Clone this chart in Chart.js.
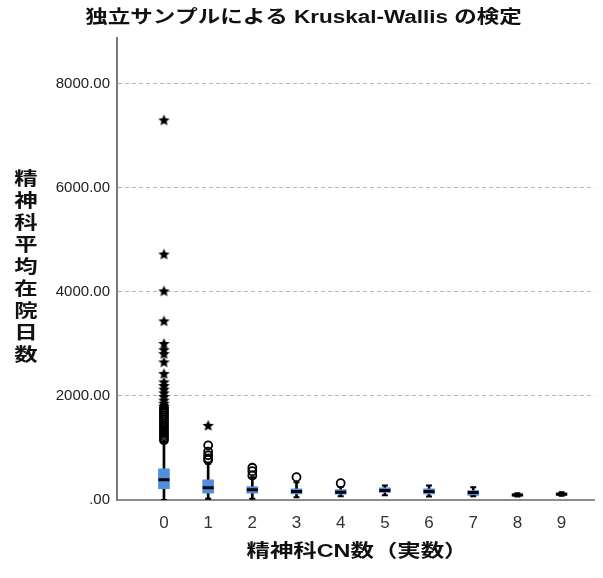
<!DOCTYPE html>
<html>
<head>
<meta charset="utf-8">
<script src="https://cdn.jsdelivr.net/npm/chart.js@4/dist/chart.umd.min.js"></script>
<style>
  html, body { margin: 0; padding: 0; background: #fff; }
  #wrap { width: 603px; height: 578px; }
</style>
</head>
<body>
<div id="wrap"><canvas id="chart" width="603" height="578"></canvas></div>
<script>
'use strict';

var chartTitle = '独立サンプルによる Kruskal-Wallis の検定';
var xTitle = '精神科CN数（実数）';
var yTitle = '精神科平均在院日数';

// 精神科CN数 (categories)
var categories = [0, 1, 2, 3, 4, 5, 6, 7, 8, 9];

// box plot summary per category
var whiskerLow  = [0,    23,  23,  54,  70,  92,  67,  70,  65,  80];
var q1          = [216,  131, 131, 119, 110, 144, 119, 87,  73,  87];
var median      = [389,  235, 196, 164, 150, 183, 164, 144, 96,  110];
var q3          = [600,  389, 260, 216, 200, 235, 216, 183, 119, 139];
var whiskerHigh = [1113, 697, 439, 343, 250, 279, 279, 246, 130, 150];

// outliers (circles) per category
var outliers = [
  [1780, 1745, 1705, 1665, 1625, 1585, 1545, 1505, 1465, 1425, 1385, 1345, 1305, 1265, 1225, 1185, 1150],
  [1050, 930, 860, 800, 770],
  [620, 554, 472],
  [439],
  [323],
  [], [], [], [], []
];

// extreme values (stars) per category
var extremes = [
  [7305, 4726, 4019, 3442, 3007, 2890, 2814, 2653, 2430, 2270, 2200, 2130, 2060, 1990, 1920, 1860, 1810],
  [1434],
  [], [], [], [], [], [], [], []
];

var yTicks = [0, 2000, 4000, 6000, 8000];

var boxColor = '#4f8fdc';

function flatten(groups) {
  var pts = [];
  groups.forEach(function (vals, i) {
    vals.forEach(function (v) { pts.push({ x: categories[i], y: v }); });
  });
  return pts;
}

// filled five point star used as point style for extremes
function starGlyph(size) {
  var c = document.createElement('canvas');
  c.width = size; c.height = size;
  var g = c.getContext('2d');
  var cx = size / 2, cy = size / 2 + 0.5;
  var outer = size / 2 - 0.5, inner = outer * 0.45;
  g.beginPath();
  for (var k = 0; k < 10; k++) {
    var r = k % 2 === 0 ? outer : inner;
    var a = -Math.PI / 2 + k * Math.PI / 5;
    g.lineTo(cx + r * Math.cos(a), cy + r * Math.sin(a));
  }
  g.closePath();
  g.fillStyle = '#000';
  g.fill();
  return c;
}

// titles are drawn a bit wider than tall, like the original export
function stretchedText(ctx, text, x, y, sx) {
  ctx.save();
  ctx.translate(x, y);
  ctx.scale(sx, 1);
  ctx.fillText(text, 0, 0);
  ctx.restore();
}

var labelsPlugin = {
  id: 'labels',
  afterDraw: function (chart) {
    var ctx = chart.ctx;
    ctx.save();
    ctx.fillStyle = '#111';
    ctx.textAlign = 'center';
    ctx.textBaseline = 'middle';
    ctx.font = 'bold 18px "Liberation Sans", "Noto Sans CJK JP", sans-serif';
    stretchedText(ctx, chartTitle, chart.width / 2 + 2, 18, 1.25);
    stretchedText(ctx, xTitle, 357, 552, 1.3);
    Array.from(yTitle).forEach(function (ch, i) {
      stretchedText(ctx, ch, 26, 180 + i * 22, 1.3);
    });
    ctx.restore();
  }
};

var ctx = document.getElementById('chart').getContext('2d');

new Chart(ctx, {
  type: 'bar',
  data: {
    datasets: [
      {
        label: 'whisker',
        data: categories.map(function (c, i) { return { x: c, y: [whiskerLow[i], whiskerHigh[i]] }; }),
        backgroundColor: '#000',
        barThickness: 2,
        grouped: false,
        order: 6
      },
      {
        label: 'box',
        data: categories.map(function (c, i) { return { x: c, y: [q1[i], q3[i]] }; }),
        backgroundColor: boxColor,
        barThickness: 11,
        grouped: false,
        order: 5
      },
      {
        type: 'scatter',
        label: 'caps',
        data: categories.map(function (c, i) { return { x: c, y: whiskerLow[i] }; })
          .concat(categories.map(function (c, i) { return { x: c, y: whiskerHigh[i] }; })),
        pointStyle: 'line',
        pointRadius: 3,
        borderColor: '#000',
        borderWidth: 2,
        order: 4
      },
      {
        type: 'scatter',
        label: 'median',
        data: categories.map(function (c, i) { return { x: c, y: median[i] }; }),
        pointStyle: 'line',
        pointRadius: 5.5,
        borderColor: '#000',
        borderWidth: 3,
        order: 3
      },
      {
        type: 'scatter',
        label: 'outliers',
        data: flatten(outliers),
        pointStyle: 'circle',
        pointRadius: 4,
        borderColor: '#000',
        backgroundColor: 'rgba(255,255,255,0)',
        borderWidth: 1.8,
        order: 2
      },
      {
        type: 'scatter',
        label: 'extremes',
        data: flatten(extremes),
        pointStyle: starGlyph(13),
        pointRadius: 6,
        order: 1
      }
    ]
  },
  options: {
    responsive: false,
    animation: false,
    layout: { padding: { top: 38, right: 0, left: 0, bottom: 0 } },
    plugins: {
      legend: { display: false },
      tooltip: { enabled: false },
      title: { display: false }
    },
    scales: {
      x: {
        type: 'linear',
        offset: false,
        min: -1.063,
        max: 9.745,
        afterFit: function (scale) { scale.height = 78; },
        afterBuildTicks: function (scale) {
          scale.ticks = categories.map(function (v) { return { value: v }; });
        },
        grid: { display: false, drawTicks: false, offset: false },
        border: { display: true, color: '#8c8c8c', width: 2 },
        ticks: {
          padding: 13,
          maxRotation: 0,
          autoSkip: false,
          color: '#333',
          font: { family: '"Liberation Sans", Arial, sans-serif', size: 17 },
          callback: function (v) { return String(v); }
        }
      },
      y: {
        type: 'linear',
        min: 0,
        max: 8880,
        afterFit: function (scale) { scale.width = 117; },
        afterBuildTicks: function (scale) {
          scale.ticks = yTicks.map(function (v) { return { value: v }; });
        },
        grid: {
          drawTicks: false,
          color: function (c) { return c.tick && c.tick.value === 0 ? 'rgba(0,0,0,0)' : '#b4b4b4'; },
          lineWidth: 1
        },
        border: { display: true, color: '#7a7a7a', width: 2, dash: [4, 3] },
        ticks: {
          padding: 7,
          color: '#222',
          font: { family: '"Liberation Sans", Arial, sans-serif', size: 15 },
          callback: function (v) { return v === 0 ? '.00' : v.toFixed(2); }
        }
      }
    }
  },
  plugins: [labelsPlugin]
});
</script>
</body>
</html>
